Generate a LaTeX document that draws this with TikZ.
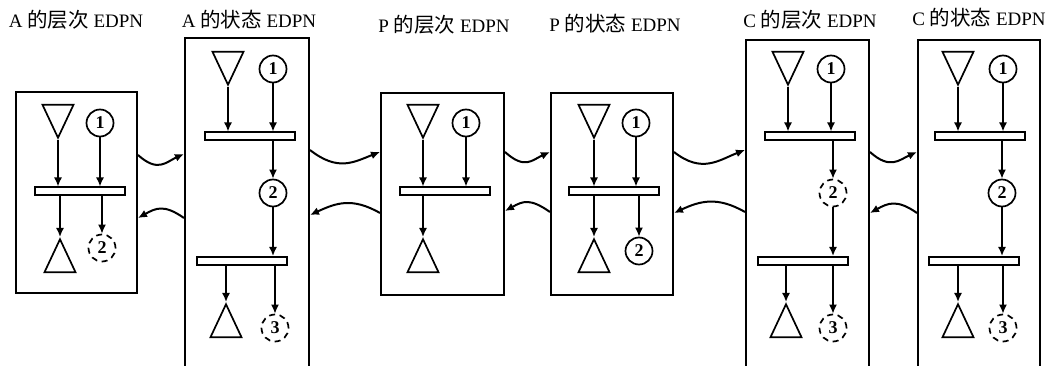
\documentclass[tikz,border=0pt]{standalone}
\usepackage{fontspec}
\setmainfont{Liberation Serif}
\newfontfamily\cjk{Noto Sans CJK SC}[Scale=1.08]
\usetikzlibrary{shapes,arrows.meta,positioning,calc}
\tikzset{
    frame/.style={rectangle, draw, line width=2pt, inner sep=0pt},
    place/.style={circle, draw, line width=1.7pt, minimum size=27pt, inner sep=0pt, font=\fontsize{18}{18}\selectfont\bfseries},
    ghost/.style={place, dash pattern=on 6pt off 4.5pt},
    trans/.style={rectangle, draw, fill=white, line width=2pt, minimum width=90pt, minimum height=8pt, inner sep=0pt},
    source/.style={isosceles triangle, isosceles triangle stretches, draw, line width=1.7pt, minimum width=31pt, minimum height=33pt, inner sep=0pt, shape border rotate=270, anchor=apex},
    sink/.style={source, shape border rotate=90},
    title/.style={font=\fontsize{19}{21}\selectfont},
    line/.style={draw, -{Latex[length=9pt, width=8pt]}, line width=1.6pt},
    wave/.style={draw, -{Latex[length=9pt, width=8pt]}, line width=2pt}
}
\begin{document}
\begin{tikzpicture}[x=1pt, y=-1pt]
    \clip (0,0) rectangle (1050,366);

    % titles
    \node [title] (t1) at (76,20) {A {\cjk 的层次} EDPN};
    \node [title] (t2) at (249,20) {A {\cjk 的状态} EDPN};
    \node [title] (t3) at (444,25) {P {\cjk 的层次} EDPN};
    \node [title] (t4) at (615,24) {P {\cjk 的状态} EDPN};
    \node [title] (t5) at (810,20) {C {\cjk 的层次} EDPN};
    \node [title] (t6) at (979,18) {C {\cjk 的状态} EDPN};

    % frames
    \node [frame, minimum width=121pt, minimum height=201pt] (a1box) at (76.5,192.5) {};
    \node [frame, minimum width=124pt, minimum height=342pt] (a2box) at (247,209) {};
    \node [frame, minimum width=123pt, minimum height=202pt] (p1box) at (442.5,194) {};
    \node [frame, minimum width=122pt, minimum height=202pt] (p2box) at (612,194) {};
    \node [frame, minimum width=123pt, minimum height=340pt] (c1box) at (807.5,210) {};
    \node [frame, minimum width=122pt, minimum height=340pt] (c2box) at (979,210) {};

    % A hierarchy
    \node [source] (a1in) at (58,140) {};
    \node [place] (a1p1) at (100,123) {1};
    \node [trans] (a1t) at (79.5,191.5) {};
    \node [sink] (a1out) at (60,237) {};
    \node [ghost] (a1p2) at (102,248) {2};

    % A state
    \node [source] (a2in) at (228,87) {};
    \node [place] (a2p1) at (273,69) {1};
    \node [trans] (a2t1) at (249.5,136.5) {};
    \node [place] (a2p2) at (273,193) {2};
    \node [trans] (a2t2) at (242,261) {};
    \node [sink] (a2out) at (226,302) {};
    \node [ghost] (a2p3) at (275,328) {3};

    % P hierarchy
    \node [source] (p1in) at (423,140) {};
    \node [place] (p1p1) at (466,123) {1};
    \node [trans] (p1t) at (444.5,191.5) {};
    \node [sink] (p1out) at (423,237) {};

    % P state
    \node [source] (p2in) at (594,140) {};
    \node [place] (p2p1) at (636,123) {1};
    \node [trans] (p2t) at (614,191.5) {};
    \node [sink] (p2out) at (594,237) {};
    \node [place] (p2p2) at (639,251) {2};

    % C hierarchy
    \node [source] (c1in) at (788,87) {};
    \node [place] (c1p1) at (831,69) {1};
    \node [trans] (c1t1) at (809.5,136.5) {};
    \node [ghost] (c1p2) at (833,193) {2};
    \node [trans] (c1t2) at (802.5,261) {};
    \node [sink] (c1out) at (786,302) {};
    \node [ghost] (c1p3) at (833,328) {3};

    % C state
    \node [source] (c2in) at (958,87) {};
    \node [place] (c2p1) at (1003,69) {1};
    \node [trans] (c2t1) at (980,136.5) {};
    \node [place] (c2p2) at (1002,193) {2};
    \node [trans] (c2t2) at (974,261) {};
    \node [sink] (c2out) at (958,302) {};
    \node [ghost] (c2p3) at (1003,328) {3};

    % arcs inside the frames
    \path [line] (a1in.apex) -- (a1in.apex |- a1t.north);
    \path [line] (a1p1) -- (a1p1 |- a1t.north);
    \path [line] (a1out.apex |- a1t.south) -- (a1out.apex);
    \path [line] (a1p2 |- a1t.south) -- (a1p2);

    \path [line] (a2in.apex) -- (a2in.apex |- a2t1.north);
    \path [line] (a2p1) -- (a2p1 |- a2t1.north);
    \path [line] (a2p2 |- a2t1.south) -- (a2p2);
    \path [line] (a2p2) -- (a2p2 |- a2t2.north);
    \path [line] (a2out.apex |- a2t2.south) -- (a2out.apex);
    \path [line] (a2p3 |- a2t2.south) -- (a2p3);

    \path [line] (p1in.apex) -- (p1in.apex |- p1t.north);
    \path [line] (p1p1) -- (p1p1 |- p1t.north);
    \path [line] (p1out.apex |- p1t.south) -- (p1out.apex);

    \path [line] (p2in.apex) -- (p2in.apex |- p2t.north);
    \path [line] (p2p1) -- (p2p1 |- p2t.north);
    \path [line] (p2out.apex |- p2t.south) -- (p2out.apex);
    \path [line] (p2p2 |- p2t.south) -- (p2p2);

    \path [line] (c1in.apex) -- (c1in.apex |- c1t1.north);
    \path [line] (c1p1) -- (c1p1 |- c1t1.north);
    \path [line] (c1p2 |- c1t1.south) -- (c1p2);
    \path [line] (c1p2) -- (c1p2 |- c1t2.north);
    \path [line] (c1out.apex |- c1t2.south) -- (c1out.apex);
    \path [line] (c1p3 |- c1t2.south) -- (c1p3);

    \path [line] (c2in.apex) -- (c2in.apex |- c2t1.north);
    \path [line] (c2p1) -- (c2p1 |- c2t1.north);
    \path [line] (c2p2 |- c2t1.south) -- (c2p2);
    \path [line] (c2p2) -- (c2p2 |- c2t2.north);
    \path [line] (c2out.apex |- c2t2.south) -- (c2out.apex);
    \path [line] (c2p3 |- c2t2.south) -- (c2p3);

    % wavy links between frames
    \path [wave] ([yshift=37.5pt]a1box.east) .. controls +(20,18) and +(-18,8) .. ([yshift=55pt]a2box.west);
    \path [wave] ([yshift=-9pt]a2box.west) .. controls +(-20,-14) and +(18,-10) .. ([yshift=-25.5pt]a1box.east);

    \path [wave] ([yshift=59pt]a2box.east) .. controls +(28,22) and +(-26,10) .. ([yshift=42pt]p1box.west);
    \path [wave] ([yshift=-19pt]p1box.west) .. controls +(-28,-16) and +(26,-12) .. ([yshift=-6pt]a2box.east);

    \path [wave] ([yshift=42pt]p1box.east) .. controls +(20,18) and +(-18,8) .. ([yshift=42pt]p2box.west);
    \path [wave] ([yshift=-18pt]p2box.west) .. controls +(-20,-14) and +(18,-10) .. ([yshift=-17pt]p1box.east);

    \path [wave] ([yshift=42pt]p2box.east) .. controls +(28,22) and +(-26,10) .. ([yshift=60pt]c1box.west);
    \path [wave] ([yshift=-2pt]c1box.west) .. controls +(-28,-16) and +(26,-12) .. ([yshift=-19pt]p2box.east);

    \path [wave] ([yshift=58pt]c1box.east) .. controls +(20,18) and +(-18,8) .. ([yshift=58pt]c2box.west);
    \path [wave] ([yshift=-3pt]c2box.west) .. controls +(-20,-14) and +(18,-10) .. ([yshift=-3pt]c1box.east);
\end{tikzpicture}
\end{document}
